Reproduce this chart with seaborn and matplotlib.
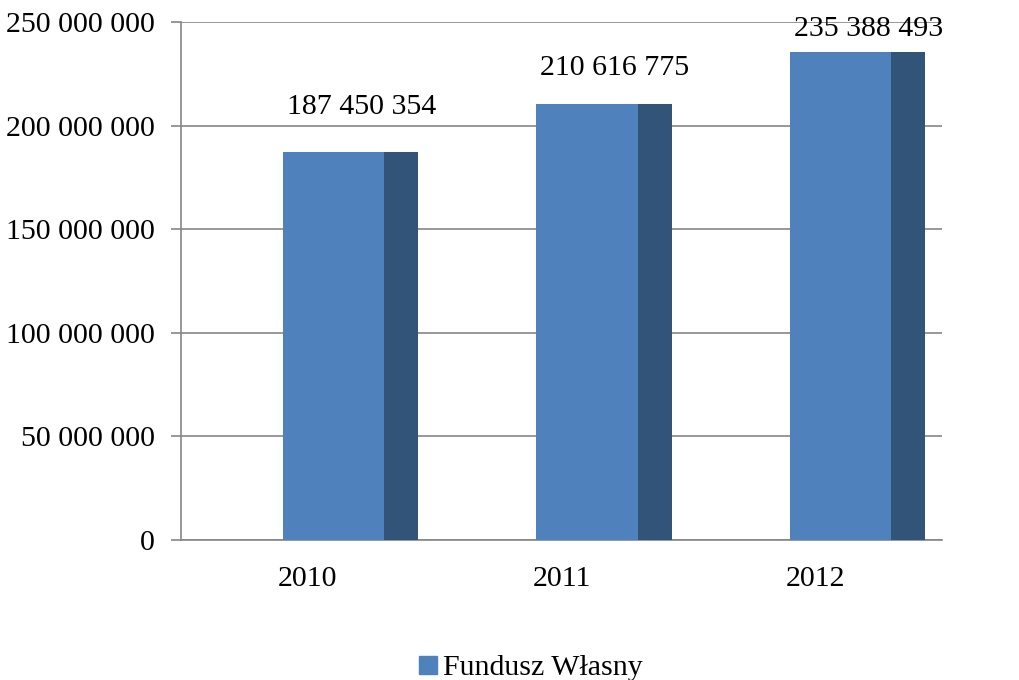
import matplotlib
matplotlib.use("Agg")
import matplotlib.pyplot as plt
import seaborn as sns
import pandas as pd
from matplotlib.lines import Line2D
from matplotlib.ticker import FuncFormatter, FixedLocator

years = ["2010", "2011", "2012"]
values = [187450354, 210616775, 235388493]
series_name = "Fundusz Własny"
labels = ["187 450 354", "210 616 775", "235 388 493"]

sns.set_theme(style="white")
plt.rcParams["font.family"] = ["Liberation Serif", "DejaVu Serif"]
plt.rcParams["text.color"] = "black"

front = "#4F81BD"
side = "#325479"
grid_c = "#868686"
fs = 21.5

fig = plt.figure(figsize=(10.2, 6.8), dpi=100)
ax = fig.add_axes([0.1775, 0.206, 0.746, 0.7616])

df = pd.DataFrame({"year": years, "value": values})
sns.barplot(data=df, x="year", y="value", color=front, width=0.4,
            saturation=1, ax=ax, zorder=3, linewidth=0)
# side (depth) faces
xs = list(range(len(years)))
ax.bar([x + 0.2 for x in xs], values, width=0.134, align="edge",
       color=side, zorder=3, linewidth=0)

ax.set_xlim(-0.6, 2.4)
ax.set_ylim(0, 250_000_000)
ax.set_yticks(range(0, 250_000_001, 50_000_000))
ax.yaxis.set_major_formatter(FuncFormatter(lambda v, p: f"{int(v):,}".replace(",", " ")))
ax.yaxis.grid(True, color=grid_c, linewidth=1.2, zorder=0)
ax.set_axisbelow(True)

# x tick labels at category centers, tick marks at boundaries
ax.set_xticks([x - 0.1 for x in xs])
ax.set_xticklabels(years)
ax.xaxis.set_minor_locator(FixedLocator([-0.6, 0.4, 1.4, 2.4]))
ax.tick_params(axis="x", which="major", length=0, pad=19, labelsize=fs, colors="black")
ax.tick_params(axis="x", which="minor", length=7, width=1.2, color=grid_c, direction="out")
ax.tick_params(axis="y", length=7, width=1.2, color=grid_c, pad=12, labelsize=fs,
               labelcolor="black", left=True)

for s in ["top", "right"]:
    ax.spines[s].set_visible(False)
for s in ["left", "bottom"]:
    ax.spines[s].set_color(grid_c)
    ax.spines[s].set_linewidth(1.2)
ax.set_xlabel("")
ax.set_ylabel("")

offsets = [32, 26, 17]
for i, (v, lab) in enumerate(zip(values, labels)):
    ax.annotate(lab, (i + 0.11, v), xytext=(0, offsets[i]), textcoords="offset points",
                ha="center", va="center", fontsize=fs, color="black",
                annotation_clip=False, zorder=5)

handle = Line2D([], [], marker="s", linestyle="none", markersize=13,
                markerfacecolor=front, markeredgecolor=front)
leg = fig.legend([handle], [series_name], loc="center", bbox_to_anchor=(0.518, 0.018),
                 frameon=False, fontsize=fs, handletextpad=0.0, handlelength=1.0)
for t in leg.get_texts():
    t.set_color("black")

fig.savefig("out.png", dpi=100)
